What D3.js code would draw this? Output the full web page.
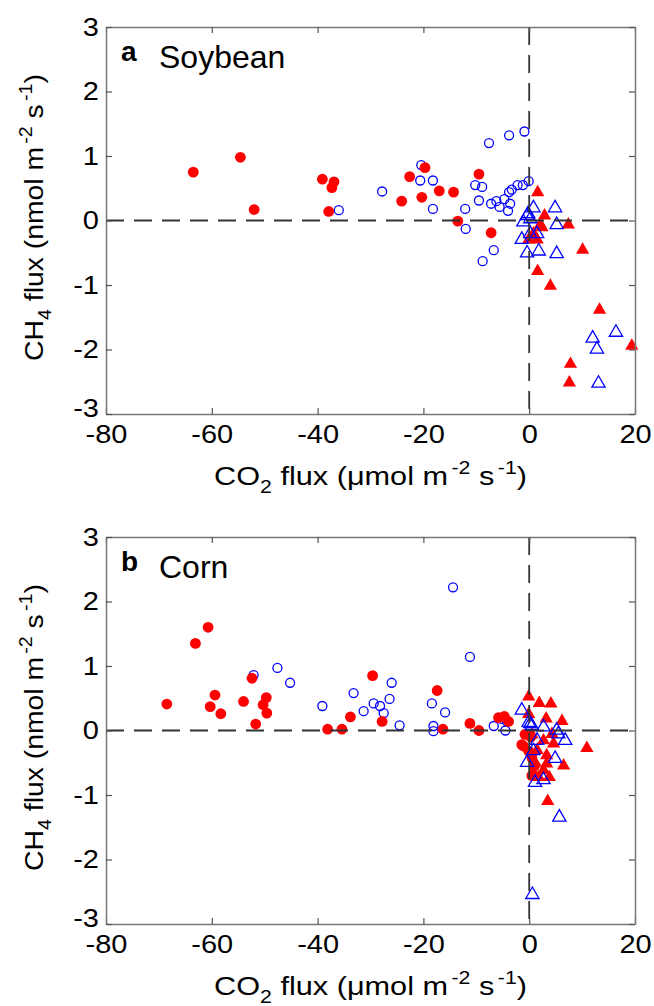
<!DOCTYPE html>
<html>
<head>
<meta charset="utf-8">
<script src="https://cdn.jsdelivr.net/npm/d3@7"></script>
<style>
  body { margin: 0; background: #fff; }
  text { font-family: "Liberation Sans", Arial, Helvetica, sans-serif; fill: #000; }
</style>
</head>
<body>
<svg id="chart" width="654" height="1006"></svg>
<script>
// Axis setup
const xDomain = [-80, 20];
const yDomain = [-3, 3];
const xTicks = [-80, -60, -40, -20, 0, 20];
const yTicks = [-3, -2, -1, 0, 1, 2, 3];

// Panel a: Soybean — [CO2 flux, CH4 flux]
const soyFilledCircles = [
  [-63.5, 0.75], [-54.6, 0.98], [-52.0, 0.17], [-39.1, 0.64], [-36.9, 0.60],
  [-37.3, 0.51], [-37.9, 0.14], [-22.6, 0.68], [-19.7, 0.82], [-24.1, 0.30],
  [-20.3, 0.36], [-17.0, 0.46], [-14.3, 0.44], [-9.5, 0.72], [-13.5, -0.01],
  [-7.2, -0.19]
];
const soyOpenCircles = [
  [-36.0, 0.16], [-27.8, 0.45], [-20.4, 0.86], [-20.6, 0.62], [-18.2, 0.62],
  [-18.2, 0.18], [-12.1, 0.18], [-12.0, -0.13], [-7.6, 1.20], [-3.8, 1.32],
  [-0.9, 1.38], [-10.2, 0.55], [-8.9, 0.52], [-9.5, 0.31], [-7.2, 0.26],
  [-6.2, 0.30], [-5.6, 0.21], [-4.7, 0.33], [-3.8, 0.44], [-3.3, 0.48],
  [-3.6, 0.26], [-4.0, 0.15], [-2.2, 0.55], [-1.2, 0.55], [-0.1, 0.61],
  [-6.7, -0.46], [-8.8, -0.63]
];
const soyFilledTriangles = [
  [1.6, 0.45], [2.9, 0.09], [2.1, -0.05], [7.4, -0.05], [2.4, -0.09],
  [0.8, -0.19], [-0.1, -0.28], [1.5, -0.28], [10.1, -0.44], [1.6, -0.77],
  [4.0, -1.00], [13.3, -1.37], [19.4, -1.93], [7.8, -2.21], [7.6, -2.50]
];
const soyOpenTriangles = [
  [0.8, 0.21], [4.9, 0.21], [5.2, -0.05], [-1.1, -0.01], [-0.2, 0.12],
  [0.2, 0.04], [-0.4, 0.09], [-1.4, -0.28], [-0.4, -0.49], [1.8, -0.46],
  [5.2, -0.50], [0.2, -0.19], [1.5, -0.19], [16.4, -1.72], [12.0, -1.81],
  [12.8, -1.98], [13.1, -2.51]
];

// Panel b: Corn — [CO2 flux, CH4 flux]
const cornFilledCircles = [
  [-68.5, 0.41], [-63.1, 1.35], [-60.7, 1.60], [-60.3, 0.37], [-59.4, 0.55],
  [-58.3, 0.26], [-54.0, 0.45], [-52.4, 0.81], [-51.7, 0.10], [-50.3, 0.40],
  [-49.7, 0.51], [-49.6, 0.27], [-38.1, 0.02], [-35.4, 0.02], [-33.8, 0.21],
  [-29.6, 0.85], [-27.8, 0.14], [-17.4, 0.62], [-16.3, 0.02], [-11.2, 0.11],
  [-9.5, 0.00], [-5.8, 0.20], [-4.7, 0.22], [-3.9, 0.14], [-1.4, -0.22],
  [-0.1, -0.32], [-0.8, -0.06], [0.5, -0.42], [-1.1, -0.24], [0.3, -0.10],
  [1.0, -0.55], [0.5, -0.70]
];
const cornOpenCircles = [
  [-52.1, 0.86], [-47.6, 0.97], [-45.2, 0.74], [-39.1, 0.38], [-33.2, 0.58],
  [-31.3, 0.30], [-14.4, 2.22], [-11.2, 1.14], [-26.0, 0.74], [-26.4, 0.49],
  [-29.4, 0.42], [-28.2, 0.38], [-27.5, 0.27], [-24.5, 0.08], [-18.4, 0.42],
  [-15.9, 0.28], [-18.1, 0.07], [-18.1, -0.01], [-6.7, 0.07], [-4.5, 0.00],
  [-5.2, 0.18], [-4.2, 0.14]
];
const cornFilledTriangles = [
  [-0.1, 0.54], [1.9, 0.44], [4.1, 0.43], [3.2, 0.20], [6.2, 0.16],
  [-0.1, 0.27], [4.3, -0.04], [2.7, -0.14], [4.6, -0.19], [1.5, -0.29],
  [3.3, -0.37], [1.1, -0.48], [3.3, -0.50], [6.5, -0.53], [0.8, -0.63],
  [2.7, -0.60], [1.8, -0.71], [3.8, -0.71], [10.9, -0.26], [3.5, -1.08],
  [0.5, -0.05]
];
const cornOpenTriangles = [
  [-1.4, 0.33], [-0.1, 0.14], [0.5, 0.09], [2.7, 0.07], [5.2, 0.02],
  [5.5, -0.04], [6.8, -0.14], [1.5, -0.14], [-0.4, -0.48], [4.9, -0.42],
  [1.1, -0.79], [2.7, -0.75], [5.7, -1.33], [0.6, -2.53], [0.2, 0.12],
  [0.8, -0.30]
];

const panels = [
  { letter: "a", crop: "Soybean", top: 27,
    filledCircles: soyFilledCircles, openCircles: soyOpenCircles,
    filledTriangles: soyFilledTriangles, openTriangles: soyOpenTriangles },
  { letter: "b", crop: "Corn", top: 537,
    filledCircles: cornFilledCircles, openCircles: cornOpenCircles,
    filledTriangles: cornFilledTriangles, openTriangles: cornOpenTriangles }
];

const RED = "#ff0000";
const BLUE = "#0000ff";
const left = 106, right = 635, plotH = 387;
const tickFont = 25;
const labelFont = 26;
const wide = 1.16;   // horizontal stretch of the axis lettering

const svg = d3.select("#chart");
const x = d3.scaleLinear().domain(xDomain).range([left, right]);
const triangle = d3.symbol().type(d3.symbolTriangle).size(76);

function fluxLabel(t, gas, sub, unit) {
  t.append("tspan").text(gas);
  t.append("tspan").attr("font-size", 18).attr("dy", 8).text(sub);
  t.append("tspan").attr("dy", -8).text(" flux (" + unit + " m");
  t.append("tspan").attr("font-size", 18).attr("dy", -11).attr("dx", 3).text("-2");
  t.append("tspan").attr("dy", 11).text(" s");
  t.append("tspan").attr("font-size", 18).attr("dy", -11).attr("dx", 3).text("-1");
  t.append("tspan").attr("dy", 11).text(")");
}
const minus = d => d < 0 ? "-" + Math.abs(d) : String(d);

panels.forEach(p => {
  const top = p.top, bottom = top + plotH;
  const y = d3.scaleLinear().domain(yDomain).range([bottom, top]);
  const g = svg.append("g");

  // markers: open circles, filled circles, filled triangles, open triangles
  g.append("g").selectAll("circle").data(p.openCircles).join("circle")
    .attr("cx", d => x(d[0])).attr("cy", d => y(d[1])).attr("r", 4.5)
    .attr("fill", "none").attr("stroke", BLUE).attr("stroke-width", 1.3);
  g.append("g").selectAll("circle").data(p.filledCircles).join("circle")
    .attr("cx", d => x(d[0])).attr("cy", d => y(d[1])).attr("r", 5.4)
    .attr("fill", RED);
  g.append("g").selectAll("path").data(p.filledTriangles).join("path")
    .attr("d", triangle)
    .attr("transform", d => `translate(${x(d[0])},${y(d[1]) + 1})`)
    .attr("fill", RED);
  g.append("g").selectAll("path").data(p.openTriangles).join("path")
    .attr("d", triangle)
    .attr("transform", d => `translate(${x(d[0])},${y(d[1]) + 1})`)
    .attr("fill", "none").attr("stroke", BLUE).attr("stroke-width", 1.3);

  // zero reference lines
  g.append("line")
    .attr("x1", left).attr("x2", right).attr("y1", y(0)).attr("y2", y(0))
    .attr("stroke", "#333").attr("stroke-width", 1.8).attr("stroke-dasharray", "18,10");
  g.append("line")
    .attr("x1", x(0)).attr("x2", x(0)).attr("y1", top).attr("y2", bottom)
    .attr("stroke", "#333").attr("stroke-width", 1.8).attr("stroke-dasharray", "18,10");

  // axes with inward ticks on all four sides
  const axB = g.append("g").attr("transform", `translate(0,${bottom})`)
    .call(d3.axisBottom(x).tickValues(xTicks).tickSizeInner(-6).tickSizeOuter(0).tickPadding(11).tickFormat(minus));
  const axT = g.append("g").attr("transform", `translate(0,${top})`)
    .call(d3.axisTop(x).tickValues(xTicks).tickSizeInner(-6).tickSizeOuter(0).tickFormat(""));
  const axL = g.append("g").attr("transform", `translate(${left},0)`)
    .call(d3.axisLeft(y).tickValues(yTicks).tickSizeInner(-6).tickSizeOuter(0).tickPadding(7).tickFormat(minus));
  const axR = g.append("g").attr("transform", `translate(${right},0)`)
    .call(d3.axisRight(y).tickValues(yTicks).tickSizeInner(-6).tickSizeOuter(0).tickFormat(""));
  [axB, axT, axL, axR].forEach(a => {
    a.select(".domain").attr("stroke", "#777").attr("stroke-width", 1.5);
    a.selectAll(".tick line").attr("stroke", "#555").attr("stroke-width", 1.2);
    a.selectAll(".tick text").attr("font-size", tickFont)
      .attr("font-family", "'Liberation Sans', Arial, sans-serif").attr("fill", "#000");
  });
  axB.selectAll(".tick text")
    .attr("transform", `scale(${wide},1)`);
  axL.selectAll(".tick text")
    .attr("x", 0)
    .attr("transform", d => `translate(-7,${d === -3 ? -6 : 0}) scale(${wide},1)`);

  // panel tag and crop name
  g.append("text").attr("x", 121).attr("y", top + 34)
    .attr("font-size", 28).attr("font-weight", "bold").text(p.letter);
  g.append("text").attr("x", 159).attr("y", top + 41)
    .attr("font-size", 32).text(p.crop);

  // axis titles
  const xl = g.append("g")
    .attr("transform", `translate(${(left + right) / 2},${bottom + 71}) scale(1.18,1)`)
    .append("text").attr("text-anchor", "middle").attr("font-size", labelFont);
  fluxLabel(xl, "CO", "2", "\u03bcmol");
  const yl = g.append("g")
    .attr("transform", `translate(43,${(top + bottom) / 2 - 3}) rotate(-90) scale(1.09,1)`)
    .append("text").attr("text-anchor", "middle").attr("font-size", labelFont);
  fluxLabel(yl, "CH", "4", "nmol");
});
</script>
</body>
</html>
